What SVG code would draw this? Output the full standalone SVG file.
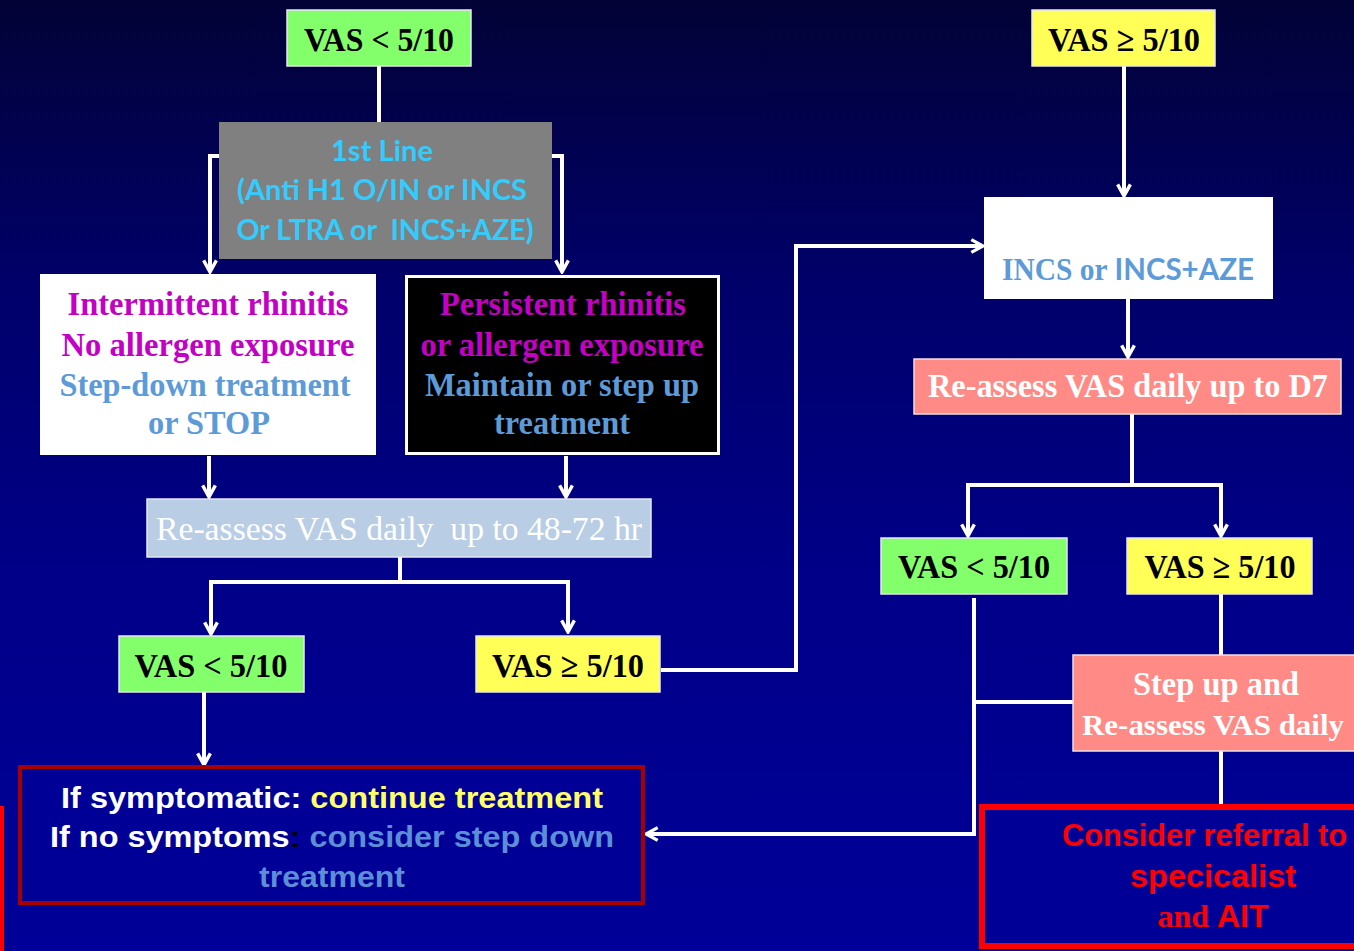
<svg xmlns="http://www.w3.org/2000/svg" width="1354" height="951" viewBox="0 0 1354 951">
<defs>
<linearGradient id="bg" x1="0" y1="0" x2="0" y2="1">
<stop offset="0" stop-color="#020236"/>
<stop offset="0.3" stop-color="#00006a"/>
<stop offset="0.6" stop-color="#000088"/>
<stop offset="1" stop-color="#000098"/>
</linearGradient>
<marker id="arr" viewBox="0 0 16 16" refX="14" refY="8" markerWidth="17" markerHeight="17" markerUnits="userSpaceOnUse" orient="auto">
<path d="M3,2 L14,8 L3,14" fill="none" stroke="#ffffff" stroke-width="3.2" stroke-linejoin="miter"/>
</marker>
<style>
.ser{font-family:"Liberation Serif","Times New Roman",serif;font-weight:bold;}
.serN{font-family:"Liberation Serif","Times New Roman",serif;font-weight:normal;}
.cal{font-family:Lato,"Open Sans",sans-serif;}
.ar{font-family:"Liberation Sans",Arial,sans-serif;font-weight:bold;}
.green{fill:#84ff6c;stroke:#e6e6f0;stroke-width:1.5;}
.yellow{fill:#ffff58;stroke:#e6e6f0;stroke-width:1.5;}
.salmon{fill:#ff8a86;stroke:#f0e0e0;stroke-width:1.5;}
.lab{fill:#000000;font-size:34px;}
.mag{fill:#c400c4;}
.blu{fill:#5c9ad8;}
.wh{fill:#ffffff;}
.conn{fill:none;stroke:#ffffff;stroke-width:4;}
</style>
</defs>
<rect x="0" y="0" width="1354" height="951" fill="url(#bg)"/>
<line x1="2" y1="806" x2="2" y2="951" stroke="#ff0000" stroke-width="4"/>

<g id="connectors">
<path class="conn" d="M379,66 V122"/>
<path class="conn" d="M219,156 H210 V272" marker-end="url(#arr)"/>
<path class="conn" d="M552,156 H562 V272" marker-end="url(#arr)"/>
<path class="conn" d="M209,456 V497" marker-end="url(#arr)"/>
<path class="conn" d="M566,456 V497" marker-end="url(#arr)"/>
<path class="conn" d="M400,557 V582 H211 V634" marker-end="url(#arr)"/>
<path class="conn" d="M400,582 H568 V632" marker-end="url(#arr)"/>
<path class="conn" d="M204,692 V765" marker-end="url(#arr)"/>
<path class="conn" d="M661,670 H796 V246 H983" marker-end="url(#arr)"/>
<path class="conn" d="M1124,66 V196" marker-end="url(#arr)"/>
<path class="conn" d="M1128,299 V357" marker-end="url(#arr)"/>
<path class="conn" d="M1132,414 V485 H968 V536" marker-end="url(#arr)"/>
<path class="conn" d="M1132,485 H1221 V536" marker-end="url(#arr)"/>
<path class="conn" d="M974,598 V834 H646" marker-end="url(#arr)"/>
<path class="conn" d="M974,702 H1073"/>
<path class="conn" d="M1221,594 V655"/>
<path class="conn" d="M1221,751 V826" marker-end="url(#arr)"/>
</g>

<g id="vas-low-top">
<rect class="green" x="287" y="10" width="184" height="56"/>
<text class="ser lab" x="379" y="51" text-anchor="middle" textLength="150" lengthAdjust="spacingAndGlyphs">VAS &lt; 5/10</text>
</g>
<g id="vas-high-top">
<rect class="yellow" x="1032" y="10" width="183" height="56"/>
<text class="ser lab" x="1124" y="51" text-anchor="middle" textLength="152" lengthAdjust="spacingAndGlyphs">VAS ≥ 5/10</text>
</g>

<g id="first-line">
<rect x="219" y="122" width="333" height="137" fill="#808080"/>
<g class="cal" fill="#33ccff" font-size="28" font-weight="bold">
<text x="382" y="161" text-anchor="middle" textLength="102" lengthAdjust="spacingAndGlyphs">1st Line</text>
<text x="382" y="200" text-anchor="middle" textLength="290" lengthAdjust="spacingAndGlyphs">(Anti H1 O/IN or INCS</text>
<text x="385" y="240" text-anchor="middle" textLength="297" lengthAdjust="spacingAndGlyphs">Or LTRA or&#160; INCS+AZE)</text>
</g>
</g>

<g id="intermittent">
<rect x="40" y="274" width="336" height="181" fill="#ffffff"/>
<g class="ser" font-size="33">
<text class="mag" x="208" y="315" text-anchor="middle" textLength="281" lengthAdjust="spacingAndGlyphs">Intermittent rhinitis</text>
<text class="mag" x="208" y="356" text-anchor="middle" textLength="293" lengthAdjust="spacingAndGlyphs">No allergen exposure</text>
<text class="blu" x="205" y="396" text-anchor="middle" textLength="291" lengthAdjust="spacingAndGlyphs">Step-down treatment</text>
<text class="blu" x="209" y="434" text-anchor="middle" textLength="122" lengthAdjust="spacingAndGlyphs">or STOP</text>
</g>
</g>

<g id="persistent">
<rect x="406.5" y="276.5" width="312" height="177" fill="#000000" stroke="#ffffff" stroke-width="3"/>
<g class="ser" font-size="33">
<text class="mag" x="563" y="315" text-anchor="middle" textLength="246" lengthAdjust="spacingAndGlyphs">Persistent rhinitis</text>
<text class="mag" x="562" y="356" text-anchor="middle" textLength="283" lengthAdjust="spacingAndGlyphs">or allergen exposure</text>
<text class="blu" x="562" y="396" text-anchor="middle" textLength="274" lengthAdjust="spacingAndGlyphs">Maintain or step up</text>
<text class="blu" x="562" y="434" text-anchor="middle" textLength="136" lengthAdjust="spacingAndGlyphs">treatment</text>
</g>
</g>

<g id="reassess-48-72">
<rect x="147" y="499" width="504" height="58" fill="#b9cde5" stroke="#e6e6f0" stroke-width="1.5"/>
<text class="serN wh" font-size="34" x="399" y="540" text-anchor="middle" textLength="486" lengthAdjust="spacingAndGlyphs">Re-assess VAS daily&#160; up to 48-72 hr</text>
</g>

<g id="vas-low-left">
<rect class="green" x="119" y="636" width="185" height="56"/>
<text class="ser lab" x="211" y="677" text-anchor="middle" textLength="153" lengthAdjust="spacingAndGlyphs">VAS &lt; 5/10</text>
</g>
<g id="vas-high-mid">
<rect class="yellow" x="476" y="636" width="184" height="56"/>
<text class="ser lab" x="568" y="677" text-anchor="middle" textLength="152" lengthAdjust="spacingAndGlyphs">VAS ≥ 5/10</text>
</g>

<g id="symptom-box">
<rect x="20" y="767" width="623" height="136" fill="#000096" stroke="#a80000" stroke-width="4"/>
<g class="ar" font-size="30">
<text x="332" y="808" text-anchor="middle" textLength="542" lengthAdjust="spacingAndGlyphs"><tspan fill="#ffffff">If symptomatic: </tspan><tspan fill="#ffff66">continue treatment</tspan></text>
<text x="332" y="847" text-anchor="middle" textLength="564" lengthAdjust="spacingAndGlyphs"><tspan fill="#ffffff">If no symptoms</tspan><tspan fill="#000000">:</tspan><tspan fill="#5c8fd6"> consider step down</tspan></text>
<text x="332" y="887" text-anchor="middle" textLength="146" lengthAdjust="spacingAndGlyphs" fill="#5c8fd6">treatment</text>
</g>
</g>

<g id="incs">
<rect x="984" y="197" width="289" height="102" fill="#ffffff"/>
<text x="1128" y="280" text-anchor="middle" textLength="252" lengthAdjust="spacingAndGlyphs" font-size="31" fill="#5c9ad8"><tspan class="ser">INCS or </tspan><tspan class="cal" font-weight="bold">INCS+AZE</tspan></text>
</g>

<g id="reassess-d7">
<rect class="salmon" x="914" y="359" width="427" height="55"/>
<text class="ser wh" font-size="34" x="1128" y="397" text-anchor="middle" textLength="400" lengthAdjust="spacingAndGlyphs">Re-assess VAS daily up to D7</text>
</g>

<g id="vas-low-right">
<rect class="green" x="881" y="538" width="186" height="56"/>
<text class="ser lab" x="974" y="578" text-anchor="middle" textLength="152" lengthAdjust="spacingAndGlyphs">VAS &lt; 5/10</text>
</g>
<g id="vas-high-right">
<rect class="yellow" x="1127" y="538" width="185" height="56"/>
<text class="ser lab" x="1220" y="578" text-anchor="middle" textLength="151" lengthAdjust="spacingAndGlyphs">VAS ≥ 5/10</text>
</g>

<g id="step-up">
<rect class="salmon" x="1073" y="655" width="300" height="96"/>
<text class="ser wh" font-size="33" x="1216" y="695" text-anchor="middle" textLength="166" lengthAdjust="spacingAndGlyphs">Step up and</text>
<text class="ser wh" font-size="30" x="1082" y="735" textLength="262" lengthAdjust="spacingAndGlyphs">Re-assess VAS daily</text>
</g>

<g id="referral">
<rect x="982" y="807" width="400" height="139" fill="#000096" stroke="#ff0000" stroke-width="6"/>
<g fill="#ff0000" font-size="31">
<text class="ar" x="1062" y="846" textLength="285" lengthAdjust="spacingAndGlyphs">Consider referral to</text>
<text class="ar" x="1213" y="887" text-anchor="middle" textLength="166" lengthAdjust="spacingAndGlyphs">specicalist</text>
<text x="1213" y="927" text-anchor="middle" textLength="111" lengthAdjust="spacingAndGlyphs"><tspan class="ser">and </tspan><tspan class="ar">AIT</tspan></text>
</g>
</g>
</svg>
